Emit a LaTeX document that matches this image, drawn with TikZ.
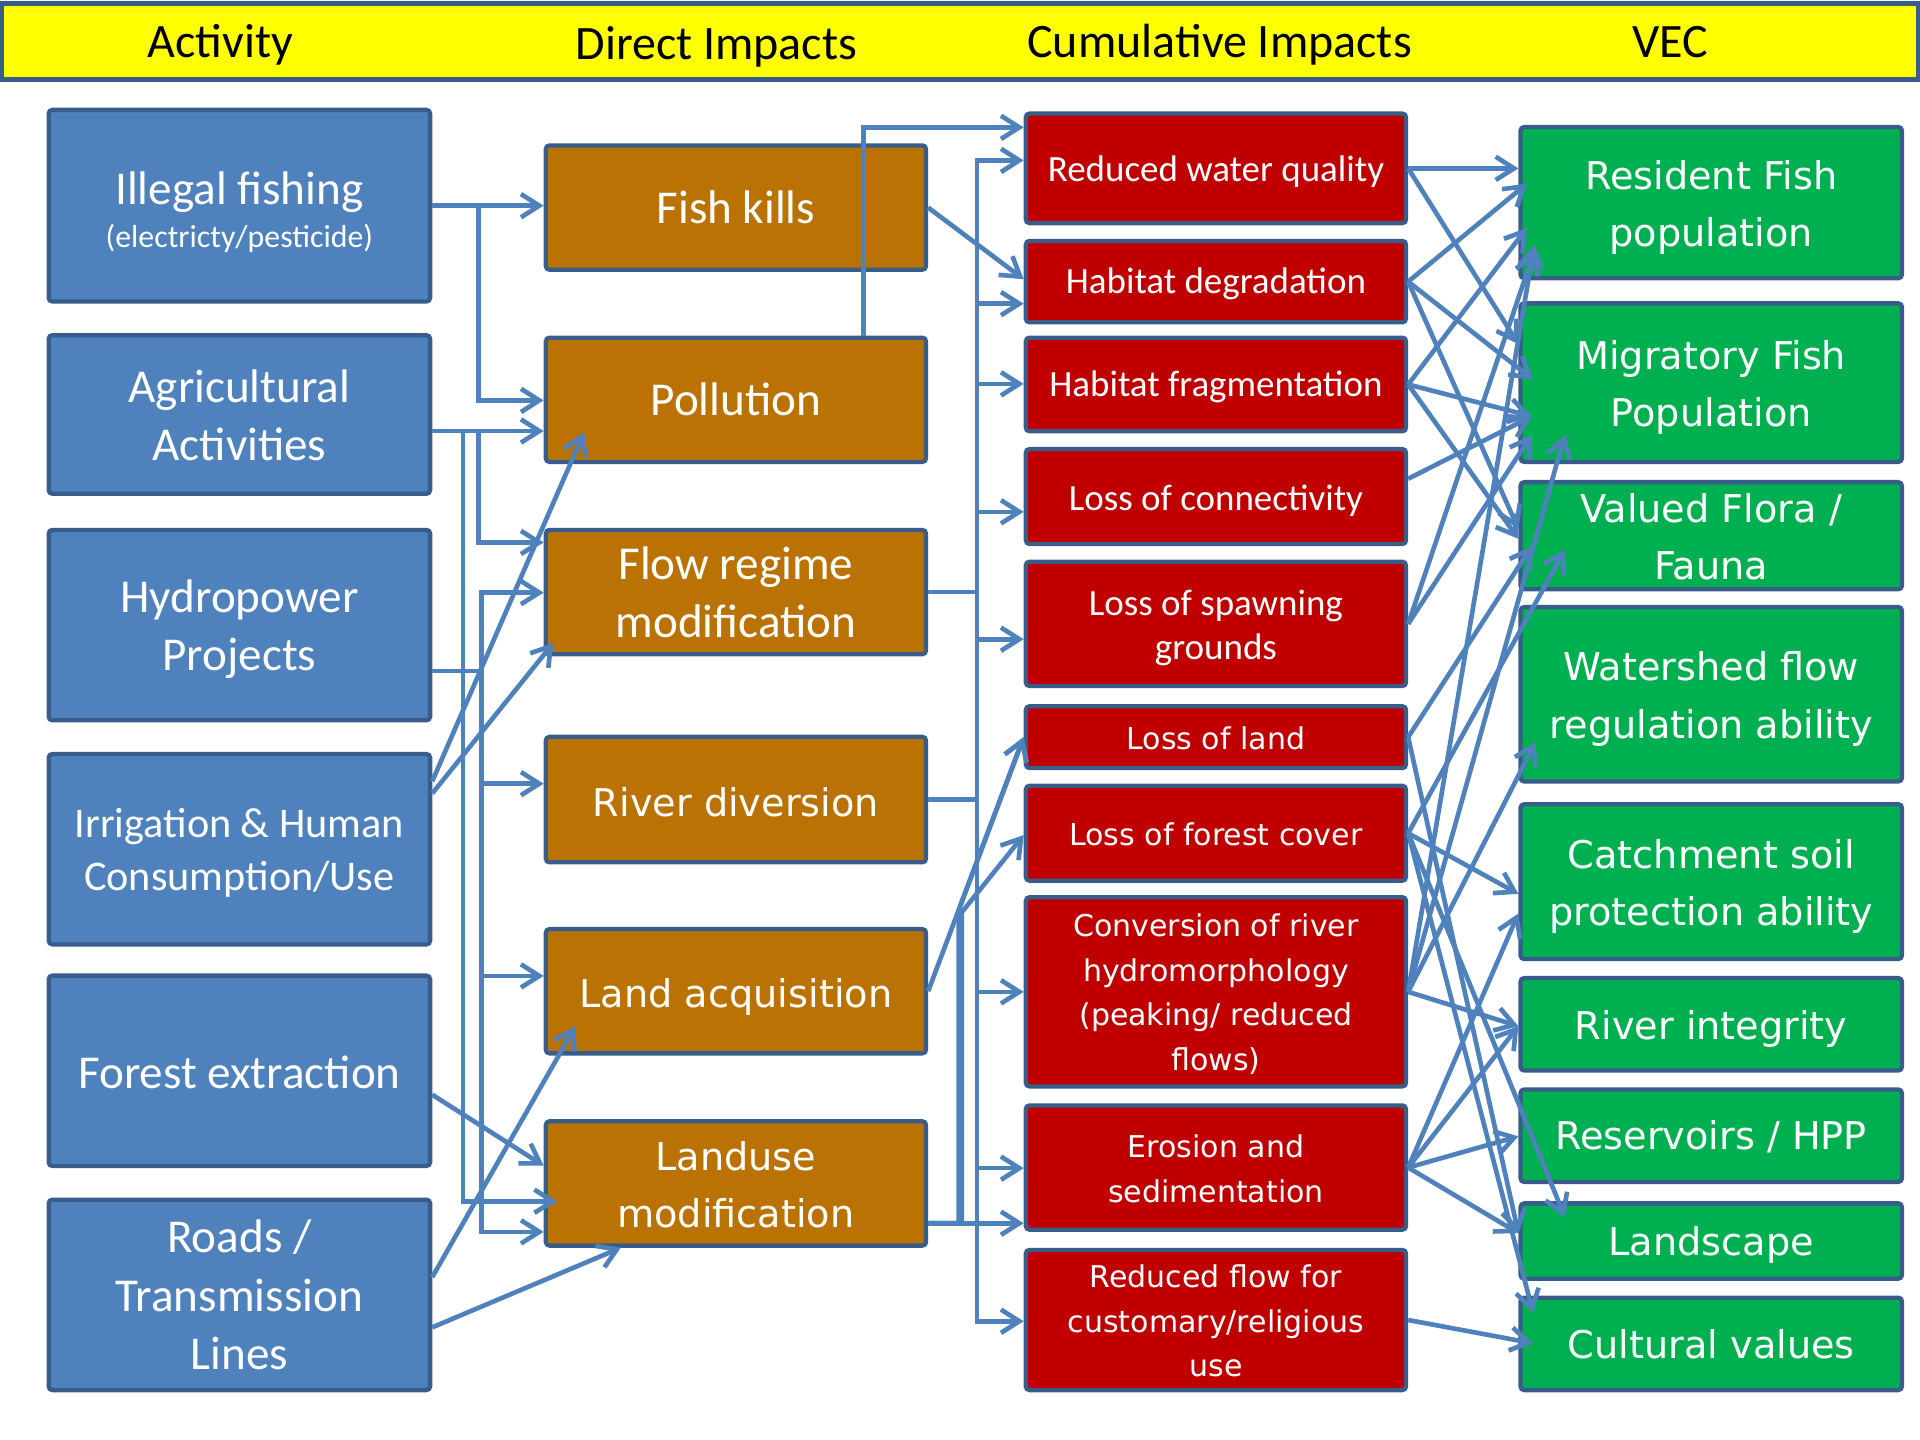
\documentclass[tikz,border=0pt]{standalone}
\usepackage{fontspec}
\setmainfont{Carlito}
\newfontfamily\verdfont{DejaVu Sans}
\usetikzlibrary{arrows.meta,calc}

\definecolor{edgeblue}{HTML}{385D8A}
\definecolor{actblue}{HTML}{4F81BD}
\definecolor{dirorange}{HTML}{BA7204}
\definecolor{cumred}{HTML}{C00000}
\definecolor{vecgreen}{HTML}{00B050}
\definecolor{linkblue}{HTML}{4F81BD}
\definecolor{headyellow}{HTML}{FFFF00}

\newcommand\fsz[2]{\fontsize{#1}{#2}\selectfont}
% box from its outer corners (x1,y1)-(x2,y2), y growing downwards;
% its caption is set at the box centre, lowered by #7
\newcommand\boxnode[8]{%
  \node[#1, minimum width={(#5-#3)*0.5pt-1.75pt}, minimum height={(#6-#4)*0.5pt-1.75pt}]
    (#2) at ({(#3+#5)/2},{(#4+#6)/2}) {};
  \node[#1, draw=none, fill=none, minimum width=0pt, minimum height=0pt]
    (#2t) at ($(#2.center)+(0,#7)$) {#8};}

\tikzset{
  box/.style={draw=edgeblue, line width=1.75pt, rounded corners=1.5pt,
    inner sep=0pt, align=center, text=white},
  actbox/.style={box, fill=actblue, font=\fsz{19.25}{23.75}},
  dirbox/.style={box, fill=dirorange, font=\fsz{19.25}{23.75}},
  cumbox/.style={box, fill=cumred, font=\fsz{15.1}{18}},
  vecbox/.style={box, fill=vecgreen, font=\verdfont\fsz{15.6}{23.5}},
  verd/.style={font=\verdfont\fsz{15.6}{23.5}},
  cumverd/.style={font=\verdfont\fsz{12.25}{18.2}},
  headtext/.style={inner sep=0pt, text=black, font=\fsz{19.6}{24}},
  conn/.style={draw=linkblue, line width=1.9pt,
    -{Straight Barb[length=7.5pt,width=9.5pt]}},
  connplain/.style={draw=linkblue, line width=1.9pt},
}

\begin{document}
\begin{tikzpicture}[x=0.5pt, y=-0.5pt]
\useasboundingbox (0,0) rectangle (1568,1176);

% header band
\fill[headyellow] (0,2) rectangle (1568,65);
\draw[edgeblue, line width=2pt] (1,2.5) rectangle (1567,65);
\node[headtext, anchor=base] (hact) at (180,47) {Activity};
\node[headtext, anchor=base] (hdir) at (585,49) {Direct Impacts};
\node[headtext, anchor=base] (hcum) at (996,47) {Cumulative Impacts};
\node[headtext, anchor=base] (hvec) at (1364,47) {VEC};

% activities
\boxnode{actbox, font=\fsz{19.25}{17.5}}{act1}{38}{88}{353}{248}{5}{Illegal fishing\\{\fsz{13}{17.5}(electricty/pesticide)}}
\boxnode{actbox}{act2}{38}{272}{353}{405}{1}{Agricultural\\Activities}
\boxnode{actbox}{act3}{38}{431}{353}{590}{3.5}{Hydropower\\Projects}
\boxnode{actbox, font=\fsz{17.25}{21.5}}{act4}{38}{614}{353}{773}{3}{Irrigation \& Human\\Consumption/Use}
\boxnode{actbox}{act5}{38}{795}{353}{954}{1}{Forest extraction}
\boxnode{actbox}{act6}{38}{978}{353}{1137}{0}{Roads /\\Transmission\\Lines}

% direct impacts
\boxnode{dirbox}{dir1}{444}{117}{758}{222}{0}{Fish kills}
\boxnode{dirbox}{dir2}{444}{274}{758}{379}{0}{Pollution}
\boxnode{dirbox}{dir3}{444}{431}{758}{536}{0}{Flow regime\\modification}
\boxnode{dirbox, verd}{dir4}{444}{600}{758}{706}{2}{River diversion}
\boxnode{dirbox, verd}{dir5}{444}{757}{758}{862}{5}{Land acquisition}
\boxnode{dirbox, verd}{dir6}{444}{914}{758}{1019}{1}{Landuse\\modification}

% cumulative impacts
\boxnode{cumbox}{cum1}{836}{91}{1150}{184}{3}{Reduced water quality}
\boxnode{cumbox}{cum2}{836}{195}{1150}{265}{2}{Habitat degradation}
\boxnode{cumbox}{cum3}{836}{274}{1150}{354}{2}{Habitat fragmentation}
\boxnode{cumbox}{cum4}{836}{365}{1150}{446}{3}{Loss of connectivity}
\boxnode{cumbox}{cum5}{836}{457}{1150}{562}{3}{Loss of spawning\\grounds}
\boxnode{cumbox, cumverd}{cum6}{836}{575}{1150}{629}{1}{Loss of land}
\boxnode{cumbox, cumverd}{cum7}{836}{640}{1150}{721}{1}{Loss of forest cover}
\boxnode{cumbox, cumverd}{cum8}{836}{731}{1150}{889}{2}{Conversion of river\\hydromorphology\\(peaking/ reduced\\flows)}
\boxnode{cumbox, cumverd}{cum9}{836}{901}{1150}{1006}{1}{Erosion and\\sedimentation}
\boxnode{cumbox, cumverd}{cum10}{836}{1019}{1150}{1137}{1}{Reduced flow for\\customary/religious\\use}

% valued ecosystem components
\boxnode{vecbox}{vec1}{1240}{102}{1555}{229}{4}{Resident Fish\\population}
\boxnode{vecbox}{vec2}{1240}{246}{1555}{379}{4}{Migratory Fish\\Population}
\boxnode{vecbox}{vec3}{1240}{392}{1555}{483}{1}{Valued Flora /\\Fauna}
\boxnode{vecbox}{vec4}{1240}{494}{1555}{640}{4}{Watershed flow\\regulation ability}
\boxnode{vecbox}{vec5}{1240}{655}{1555}{785}{4}{Catchment soil\\protection ability}
\boxnode{vecbox}{vec6}{1240}{797}{1555}{876}{4}{River integrity}
\boxnode{vecbox}{vec7}{1240}{888}{1555}{967}{1}{Reservoirs / HPP}
\boxnode{vecbox}{vec8}{1240}{981}{1555}{1046}{3}{Landscape}
\boxnode{vecbox}{vec9}{1240}{1058}{1555}{1137}{0}{Cultural values}

% bus lines and junctions
\coordinate (bA) at (391,0);
\coordinate (bB) at (378,0);
\coordinate (bC) at (393,0);
\coordinate (bD) at (798,0);
\coordinate (jF) at (785.5,745);
\coordinate (jL) at ($(dir5.east)!0.32!(cum6.west)$);

% outlets
\coordinate (a2o) at ($(act2.north east)+(0,80)$);
\coordinate (a3o) at ($(act3.north east)+(0,117)$);
\coordinate (a4o1) at ($(act4.north east)+(0,24)$);
\coordinate (a4o2) at ($(act4.north east)+(0,34)$);
\coordinate (a5o) at ($(act5.north east)+(0,99)$);
\coordinate (a6o1) at ($(act6.north east)+(0,65)$);
\coordinate (a6o2) at ($(act6.north east)+(0,106)$);
\coordinate (d6o) at ($(dir6.north east)+(0,85)$);
\coordinate (c4o) at ($(cum4.north east)+(0,26)$);

% activities -> direct impacts
\draw[conn] (act1.east) -- (act1.east -| dir1.west);
\draw[conn] (act1.east) -- (act1.east -| bA) |- ($(dir2.north west)+(0,53)$);
\draw[conn] (a2o) -- (a2o -| dir2.west);
\draw[conn] (a2o) -- (a2o -| bA) |- ($(dir3.north west)+(0,12)$);
\draw[conn] (a2o) -- (a2o -| bB) |- ($(dir6.north west)+(11,67)$);
\draw[conn] (a3o) -- (a3o -| bC) |- ($(dir3.north west)+(0,53)$);
\draw[conn] (a3o) -- (a3o -| bC) |- ($(dir4.north west)+(0,40)$);
\draw[conn] (a3o) -- (a3o -| bC) |- ($(dir5.north west)+(0,40)$);
\draw[conn] (a3o) -- (a3o -| bC) |- ($(dir6.north west)+(0,92)$);
\draw[conn] (a4o1) -- ($(dir2.south west)+(33,-26)$);
\draw[conn] (a4o2) -- ($(dir3.south west)+(8,-11)$);
\draw[conn] (a5o) -- ($(dir6.north west)+(0,38)$);
\draw[conn] (a6o1) -- ($(dir5.south west)+(26,-24)$);
\draw[conn] (a6o2) -- ($(dir6.south west)+(63,0)$);

% direct -> cumulative impacts
\draw[conn] ($(dir2.north west)+(261,0)$) |- ($(cum1.north west)+(0,13)$);
\draw[conn] (dir1.east) -- ($(cum2.north west)+(0,33)$);
\foreach \tgt/\dy in {cum1/40, cum2/53, cum3/39.5, cum4/53, cum5/65, cum8/79, cum9/53, cum10/60}
  \draw[conn] (dir3.east) -- (dir3.east -| bD) |- ($(\tgt.north west)+(0,\dy)$);
\draw[connplain] (dir4.east) -- (dir4.east -| bD);
\draw[conn] (dir5.east) -- (cum6.west);
\draw[conn] (d6o) -| (jL) -- (cum6.west);
\draw[conn] (d6o) -| (jF) -- ($(cum7.north west)+(0,42)$);
\draw[conn] (d6o) -- (d6o -| cum9.west);

% cumulative impacts -> VEC
\draw[conn] (cum1.east) -- (cum1.east -| vec1.west);
\draw[conn] (cum1.east) -- ($(vec2.north west)+(0,35)$);
\draw[conn] (cum2.east) -- ($(vec1.north west)+(7,48)$);
\draw[conn] (cum2.east) -- ($(vec2.north west)+(12,64)$);
\draw[conn] (cum2.east) -- ($(vec3.north west)+(0,40)$);
\draw[conn] (cum3.east) -- ($(vec1.north west)+(7,84)$);
\draw[conn] (cum3.east) -- ($(vec2.north west)+(11,94)$);
\draw[conn] (cum3.east) -- ($(vec3.north west)+(0,48)$);
\draw[conn] (c4o) -- ($(vec2.north west)+(11,94)$);
\draw[conn] (cum5.east) -- ($(vec1.north west)+(13,103)$);
\draw[conn] (cum5.east) -- ($(vec2.north west)+(11,109)$);
\draw[conn] (cum6.east) -- ($(vec3.north west)+(11,54)$);
\draw[conn] (cum6.east) -- ($(vec8.north west)+(0,26)$);
\draw[conn] (cum7.east) -- ($(vec3.north west)+(38,57)$);
\draw[conn] (cum7.east) -- ($(vec5.north west)+(0,75)$);
\draw[conn] (cum7.east) -- ($(vec8.north west)+(38,13)$);
\draw[conn] (cum7.east) -- ($(vec9.north west)+(12,14)$);
\draw[conn] (cum8.east) -- ($(vec1.north west)+(13,98)$);
\draw[conn] (cum8.east) -- ($(vec2.north west)+(38,109)$);
\draw[conn] (cum8.east) -- ($(vec4.north west)+(14,112)$);
\draw[conn] (cum8.east) -- ($(vec6.north west)+(0,41)$);
\draw[conn] (cum9.east) -- ($(vec5.north west)+(0,91)$);
\draw[conn] (cum9.east) -- ($(vec6.north west)+(0,41)$);
\draw[conn] (cum9.east) -- ($(vec7.north west)+(0,40)$);
\draw[conn] (cum9.east) -- ($(vec8.north west)+(0,26)$);
\draw[conn] (cum10.east) -- ($(vec9.north west)+(12,39)$);
\end{tikzpicture}
\end{document}
